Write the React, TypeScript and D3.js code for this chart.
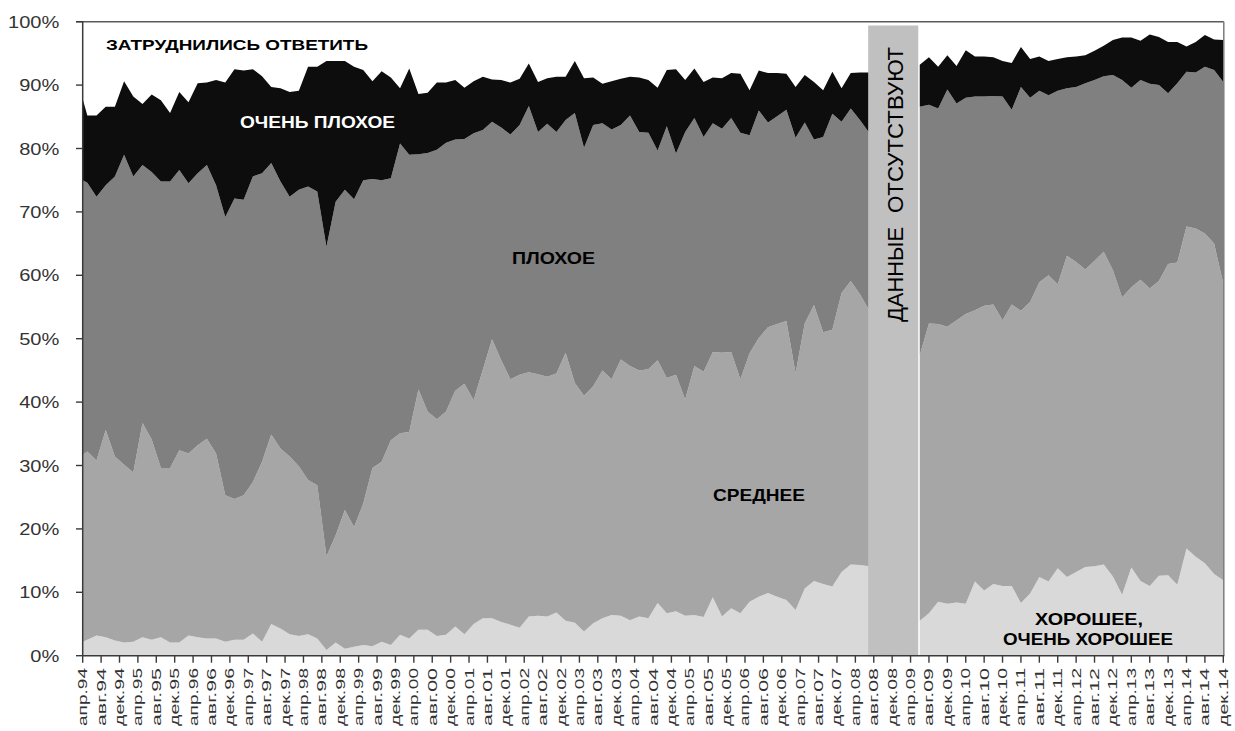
import React from "react";
import * as d3 from "d3";

// Survey dates (YYYY-MM)
const dates: string[] = [
  "1994-04","1994-05","1994-07","1994-09","1994-11",
  "1995-01","1995-03","1995-05","1995-07","1995-09","1995-11",
  "1996-01","1996-03","1996-05","1996-07","1996-09","1996-11",
  "1997-01","1997-03","1997-05","1997-07","1997-09","1997-11",
  "1998-01","1998-03","1998-05","1998-07","1998-09","1998-11",
  "1999-01","1999-03","1999-05","1999-07","1999-09","1999-11",
  "2000-01","2000-03","2000-05","2000-07","2000-09","2000-11",
  "2001-01","2001-03","2001-05","2001-07","2001-09","2001-11",
  "2002-01","2002-03","2002-05","2002-07","2002-09","2002-11",
  "2003-01","2003-03","2003-05","2003-07","2003-09","2003-11",
  "2004-01","2004-03","2004-05","2004-07","2004-09","2004-11",
  "2005-01","2005-03","2005-05","2005-07","2005-09","2005-11",
  "2006-01","2006-03","2006-05","2006-07","2006-09","2006-11",
  "2007-01","2007-03","2007-05","2007-07","2007-09","2007-11",
  "2008-01","2008-03","2008-05","2008-07",
  "2009-06","2009-08","2009-10","2009-12",
  "2010-02","2010-04","2010-06","2010-08","2010-10","2010-12",
  "2011-02","2011-04","2011-06","2011-08","2011-10","2011-12",
  "2012-02","2012-04","2012-06","2012-08","2012-10","2012-12",
  "2013-02","2013-04","2013-06","2013-08","2013-10","2013-12",
  "2014-02","2014-04","2014-06","2014-08","2014-10","2014-12",
];

// ХОРОШЕЕ, ОЧЕНЬ ХОРОШЕЕ (%)
const good: number[] = [
  2.2, 2.5, 3.2, 2.9, 2.4,
  2.1, 2.2, 2.9, 2.5, 2.9, 2.1, 2.1, 3.2, 2.9, 2.7, 2.7,
  2.2, 2.5, 2.5, 3.5, 2.2, 5.0, 4.3, 3.4, 3.1, 3.4, 2.7,
  0.9, 2.1, 1.1, 1.4, 1.7, 1.5, 2.2, 1.7, 3.3, 2.7, 4.1,
  4.1, 3.1, 3.3, 4.6, 3.4, 5.0, 5.9, 5.9, 5.3, 4.9, 4.4,
  6.2, 6.3, 6.2, 6.8, 5.5, 5.2, 3.8, 5.1, 5.9, 6.4, 6.3,
  5.6, 6.2, 5.9, 8.3, 6.7, 7.0, 6.3, 6.4, 6.1, 9.2, 6.2,
  7.5, 6.7, 8.5, 9.3, 9.9, 9.3, 8.8, 7.2, 10.6, 11.8, 11.3,
  10.9, 13.2, 14.4, 14.3, 14.1,
  5.5, 6.7, 8.5, 8.2, 8.4, 8.2, 11.7, 10.3, 11.3, 11.0, 11.0, 8.3, 9.8, 12.4, 11.7, 13.8, 12.4,
  13.2, 14.0, 14.1, 14.4, 12.5, 9.6, 13.9, 11.8, 11.0, 12.6, 12.7, 11.2, 16.9, 15.6, 14.6, 12.9, 11.9,
];

// СРЕДНЕЕ (%)
const average: number[] = [
  29.5, 29.7, 27.6, 32.7, 29.0,
  28.0, 26.7, 33.8, 31.6, 26.7, 27.5, 30.3, 28.7, 30.3, 31.5, 29.2,
  23.1, 22.2, 22.8, 23.9, 28.4, 29.9, 28.4, 28.0, 26.8, 24.3, 24.2,
  14.8, 16.9, 21.9, 18.9, 22.3, 28.1, 28.4, 32.3, 31.8, 32.6, 37.9,
  34.4, 34.2, 35.2, 37.2, 39.5, 35.3, 39.2, 44.0, 41.3, 38.7, 39.9,
  38.5, 38.1, 37.8, 37.7, 42.3, 37.8, 37.2, 37.4, 39.1, 37.2, 40.4,
  40.1, 38.8, 39.3, 38.3, 37.1, 37.3, 34.1, 39.3, 38.7, 38.7, 41.6,
  40.4, 36.9, 39.2, 40.8, 41.9, 43.0, 44.0, 37.4, 41.8, 43.5, 39.7,
  40.5, 44.0, 44.7, 42.7, 40.4,
  41.9, 45.7, 43.8, 43.7, 44.5, 45.7, 42.8, 44.9, 44.1, 41.9, 44.4, 46.1, 46.0, 46.5, 48.3, 44.8, 50.7,
  48.9, 46.9, 48.2, 49.3, 48.3, 46.9, 44.2, 47.5, 46.9, 46.5, 49.1, 50.8, 50.8, 51.8, 52.0, 52.1, 46.8,
];

// ПЛОХОЕ (%)
const bad: number[] = [
  43.3, 42.4, 41.6, 38.6, 44.2,
  48.9, 46.7, 40.7, 42.2, 45.2, 45.2, 44.2, 42.6, 42.9, 43.2, 42.3,
  43.9, 47.4, 46.6, 48.2, 45.5, 42.8, 42.1, 41.0, 43.6, 46.3, 46.3,
  48.8, 52.6, 50.5, 51.7, 51.0, 45.6, 44.4, 41.3, 45.7, 43.7, 37.1,
  40.8, 42.5, 42.4, 39.6, 38.6, 42.1, 37.8, 34.3, 36.7, 38.6, 39.4,
  42.0, 38.2, 39.9, 38.1, 36.7, 42.6, 39.1, 41.2, 39.0, 39.4, 37.0,
  39.5, 37.6, 37.3, 33.1, 39.7, 34.9, 42.2, 39.1, 37.0, 36.1, 35.3,
  36.9, 38.9, 34.4, 35.9, 32.3, 32.8, 33.3, 37.1, 31.7, 26.1, 30.8,
  34.1, 27.0, 27.2, 27.5, 28.0,
  39.2, 34.5, 34.0, 37.4, 34.2, 34.1, 33.7, 33.0, 32.9, 35.3, 30.7, 35.3, 32.2, 30.2, 28.4, 30.5, 26.4,
  27.6, 29.4, 28.5, 27.7, 30.8, 34.3, 31.5, 31.5, 32.3, 30.9, 26.9, 28.3, 24.4, 24.6, 26.3, 27.4, 31.8,
];

// ОЧЕНЬ ПЛОХОЕ (%)
const veryBad: number[] = [
  12.8, 10.6, 12.8, 12.4, 11.0,
  11.6, 12.6, 9.6, 12.2, 12.8, 10.8, 12.3, 12.8, 14.2, 13.0, 16.6,
  21.2, 20.4, 20.4, 16.9, 15.3, 12.0, 14.7, 16.5, 15.6, 18.9, 19.7,
  29.3, 22.2, 20.3, 20.9, 17.4, 15.4, 17.2, 15.9, 8.7, 13.6, 9.5,
  9.5, 10.6, 9.5, 9.4, 8.1, 8.2, 8.4, 6.7, 7.5, 8.2, 7.3,
  6.7, 7.9, 7.2, 8.7, 6.8, 8.2, 11.0, 7.5, 6.2, 7.6, 7.3,
  6.1, 8.6, 8.3, 9.9, 8.9, 13.3, 8.2, 7.8, 8.7, 7.2, 8.0,
  7.1, 9.3, 7.1, 6.3, 7.8, 6.8, 5.7, 8.0, 7.5, 9.1, 7.4,
  6.6, 5.3, 5.6, 7.5, 9.5,
  6.6, 7.5, 6.6, 5.4, 5.9, 7.5, 6.3, 6.3, 6.1, 5.6, 7.4, 6.3, 6.1, 5.4, 5.4, 5.0, 4.9,
  4.8, 4.4, 4.6, 4.8, 5.5, 6.7, 7.9, 6.2, 7.8, 7.6, 8.1, 6.5, 4.0, 4.8, 5.0, 4.8, 6.6,
];

const xTickLabels: string[] = [
  "апр.94","авг.94","дек.94","апр.95","авг.95","дек.95","апр.96","авг.96","дек.96",
  "апр.97","авг.97","дек.97","апр.98","авг.98","дек.98","апр.99","авг.99","дек.99",
  "апр.00","авг.00","дек.00","апр.01","авг.01","дек.01","апр.02","авг.02","дек.02",
  "апр.03","авг.03","дек.03","апр.04","авг.04","дек.04","апр.05","авг.05","дек.05",
  "апр.06","авг.06","дек.06","апр.07","авг.07","дек.07","апр.08","авг.08","дек.08",
  "апр.09","авг.09","дек.09","апр.10","авг.10","дек.10","апр.11","авг.11","дек.11",
  "апр.12","авг.12","дек.12","апр.13","авг.13","дек.13","апр.14","авг.14","дек.14",
];

const yTicks: number[] = [0, 10, 20, 30, 40, 50, 60, 70, 80, 90, 100];

const seriesKeys = ["good", "average", "bad", "veryBad"] as const;
const seriesColors: Record<string, string> = {
  good: "#d9d9d9",
  average: "#a6a6a6",
  bad: "#808080",
  veryBad: "#0d0d0d",
};

const FONT = "Arial, 'Liberation Sans', sans-serif";

function monthIndex(s: string): number {
  const [yy, mm] = s.split("-").map(Number);
  return (yy - 1994) * 12 + (mm - 4);
}

export default function App() {
  const X0 = 82.7, X1 = 1223.3, Y0 = 655.7, Y1 = 21.7;
  const x = d3.scaleLinear().domain([0, 248]).range([X0, X1]);
  const y = d3.scaleLinear().domain([0, 100]).range([Y0, Y1]);

  const n = Math.min(dates.length, good.length, average.length, bad.length, veryBad.length);
  const rows = d3.range(n).map((i) => ({
    m: monthIndex(dates[i]),
    good: good[i],
    average: average[i],
    bad: bad[i],
    veryBad: veryBad[i],
  }));

  const segments: typeof rows[] = [];
  rows.forEach((r, i) => {
    if (i === 0 || r.m - rows[i - 1].m > 3) segments.push([]);
    segments[segments.length - 1].push(r);
  });

  const stack = d3.stack<any>().keys(seriesKeys as unknown as string[]);
  const area = d3
    .area<any>()
    .x((d) => x(d.data.m))
    .y0((d) => y(d[0]))
    .y1((d) => y(d[1]));

  const seg0 = segments[0];
  const seg1 = segments[1] || segments[0];
  const gapX0 = x(seg0[seg0.length - 1].m) - 1;
  const gapX1 = x(seg1[0].m) - 1.5;

  const tickMonths = xTickLabels.map((_, k) => k * 4);

  return (
    <svg
      width={1235}
      height={731}
      style={{ position: "absolute", left: 0, top: 0, background: "#fff" }}
      fontFamily={FONT}
    >
      <rect x={0} y={0} width={1235} height={731} fill="#fff" />
      {segments.map((seg, si) => {
        const layers = stack(seg);
        return (
          <g key={si}>
            {layers.map((layer) => (
              <path key={layer.key} d={area(layer) || ""} fill={seriesColors[layer.key]} />
            ))}
          </g>
        );
      })}

      {/* no-data band */}
      <rect x={gapX0} y={y(99.4)} width={gapX1 - gapX0} height={y(0) - y(99.4)} fill="#c0c0c0" />
      <text
        transform={`translate(903, 322) rotate(-90)`}
        fontSize={22}
        textLength={95}
        lengthAdjust="spacingAndGlyphs"
        fill="#000"
      >
        ДАННЫЕ
      </text>
      <text
        transform={`translate(903, 213) rotate(-90)`}
        fontSize={22}
        textLength={166}
        lengthAdjust="spacingAndGlyphs"
        fill="#000"
      >
        ОТСУТСТВУЮТ
      </text>

      {/* frame */}
      <line x1={76} x2={X1 + 0.5} y1={Y1} y2={Y1} stroke="#5a5a5a" strokeWidth={1.6} />
      <line x1={X1 + 0.5} x2={X1 + 0.5} y1={Y1} y2={Y0} stroke="#7a7a7a" strokeWidth={1.5} />
      <line x1={X0} x2={X0} y1={Y1} y2={Y0} stroke="#3a3a3a" strokeWidth={1.5} />
      <line x1={X0} x2={X1 + 1} y1={Y0} y2={Y0} stroke="#3a3a3a" strokeWidth={1.5} />

      {/* y axis */}
      {yTicks.map((t) => (
        <g key={t}>
          <line x1={76} x2={X0} y1={y(t)} y2={y(t)} stroke="#3a3a3a" strokeWidth={1.4} />
          <text
            transform={`translate(59.3, ${y(t)}) scale(1.18, 1)`}
            textAnchor="end"
            dy="0.36em"
            fontSize={17}
            fill="#333"
          >
            {t}%
          </text>
        </g>
      ))}

      {/* x axis */}
      {tickMonths.map((m, k) => (
        <g key={k}>
          <line x1={x(m)} x2={x(m)} y1={Y0} y2={Y0 + 7} stroke="#3a3a3a" strokeWidth={1.4} />
          <text
            transform={`translate(${x(m) + 4.5}, 668) rotate(-90)`}
            textAnchor="end"
            fontSize={12}
            textLength={58}
            lengthAdjust="spacingAndGlyphs"
            fill="#333"
          >
            {xTickLabels[k]}
          </text>
        </g>
      ))}

      {/* series annotations */}
      <text x={106} y={50} fontSize={15} fontWeight="bold" textLength={262} lengthAdjust="spacingAndGlyphs" fill="#000">
        ЗАТРУДНИЛИСЬ ОТВЕТИТЬ
      </text>
      <text x={240} y={128.3} fontSize={16} fontWeight="bold" textLength={155} lengthAdjust="spacingAndGlyphs" fill="#fff">
        ОЧЕНЬ ПЛОХОЕ
      </text>
      <text x={512} y={264} fontSize={17} fontWeight="bold" textLength={83} lengthAdjust="spacingAndGlyphs" fill="#000">
        ПЛОХОЕ
      </text>
      <text x={713} y={501} fontSize={17} fontWeight="bold" textLength={92} lengthAdjust="spacingAndGlyphs" fill="#000">
        СРЕДНЕЕ
      </text>
      <text x={1035} y={625} fontSize={17} fontWeight="bold" textLength={108} lengthAdjust="spacingAndGlyphs" fill="#000">
        ХОРОШЕЕ,
      </text>
      <text x={1003} y={645} fontSize={17} fontWeight="bold" textLength={170} lengthAdjust="spacingAndGlyphs" fill="#000">
        ОЧЕНЬ ХОРОШЕЕ
      </text>
    </svg>
  );
}
